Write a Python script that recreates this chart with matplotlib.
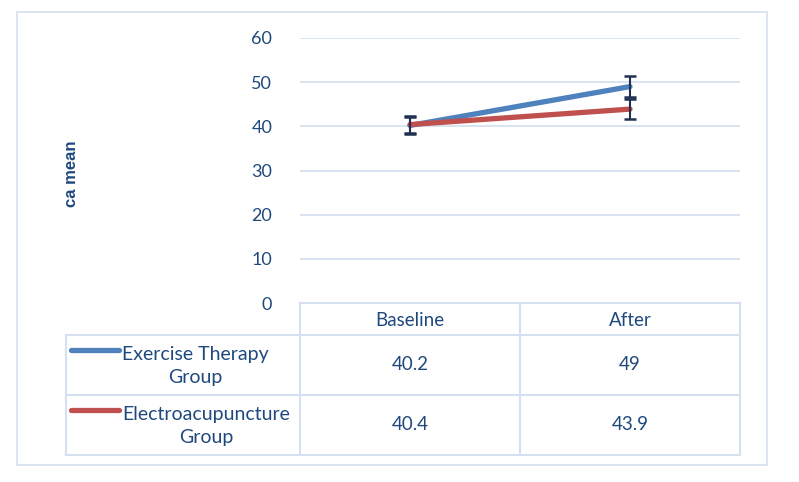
import matplotlib.pyplot as plt
from matplotlib.lines import Line2D
from matplotlib.patches import Rectangle

# chart data
categories = ["Baseline", "After"]
series_names = ["Exercise Therapy\nGroup", "Electroacupuncture\nGroup"]
exercise_vals = [40.2, 49]
electro_vals = [40.4, 43.9]
exercise_err = [2.0, 2.3]
electro_err = [2.0, 2.2]
value_labels = [["40.2", "49"], ["40.4", "43.9"]]
yticks = [0, 10, 20, 30, 40, 50, 60]

colors = ["#4F81BD", "#C0504D"]
text_col = "#1F497D"
grid_col = "#D5E1F0"
err_col = "#1F3050"

plt.rcParams['font.family'] = ['Lato', 'DejaVu Sans']

W, H = 799, 482
fig = plt.figure(figsize=(W / 100, H / 100), dpi=100)


def fx(x):
    return x / W


def fy(y):
    return 1 - y / H


# plot area in pixels
left, right, top, bottom = 300, 740, 38, 303
ax = fig.add_axes([fx(left), fy(bottom), fx(right) - fx(left), fy(top) - fy(bottom)])
ax.set_xlim(-0.5, len(categories) - 0.5)
ax.set_ylim(0, 60)
ax.set_yticks(yticks)
ax.yaxis.grid(True, color=grid_col, linewidth=1.3)
ax.set_axisbelow(True)
for s in ax.spines.values():
    s.set_visible(False)
ax.tick_params(axis='y', length=0, pad=20, labelsize=13, labelcolor=text_col)
ax.set_xticks([])

xs = list(range(len(categories)))
for vals, errs, c in [(exercise_vals, exercise_err, colors[0]), (electro_vals, electro_err, colors[1])]:
    ax.plot(xs, vals, color=c, linewidth=3.8, solid_capstyle='round', zorder=3)
    ax.errorbar(xs, vals, yerr=errs, fmt='none', ecolor=err_col, elinewidth=1.5,
                capsize=4.3, capthick=1.8, zorder=4)

fig.text(fx(71), fy(174), "ca mean", rotation=90, ha='center', va='center',
         fontsize=12, fontweight='bold', color=text_col, family=['Liberation Sans'])

# data table under the plot
tcol = "#D5E1F0"
col_edges = [66, 300, 520, 740]
row_edges = [303, 335, 395, 455]


def hline(x0, x1, y):
    fig.add_artist(Line2D([fx(x0), fx(x1)], [fy(y), fy(y)], color=tcol, lw=1.5))


def vline(x, y0, y1):
    fig.add_artist(Line2D([fx(x), fx(x)], [fy(y0), fy(y1)], color=tcol, lw=1.5))


hline(col_edges[1], col_edges[3], row_edges[0])
for y in row_edges[1:]:
    hline(col_edges[0], col_edges[3], y)
vline(col_edges[0], row_edges[1], row_edges[3])
for x in col_edges[1:]:
    vline(x, row_edges[0], row_edges[3])

for j, cat in enumerate(categories):
    cx = (col_edges[j + 1] + col_edges[j + 2]) / 2
    fig.text(fx(cx), fy((row_edges[0] + row_edges[1]) / 2 + 1), cat, ha='center', va='center',
             fontsize=13.5, color=text_col)

for i, name in enumerate(series_names):
    cy = (row_edges[i + 1] + row_edges[i + 2]) / 2
    fig.add_artist(Line2D([fx(71), fx(119)], [fy(cy - 15), fy(cy - 15)], color=colors[i],
                          lw=3.8, solid_capstyle='round'))
    fig.text(fx(122), fy(cy + 1), name, ha='left', va='center', multialignment='center',
             fontsize=14, color=text_col, linespacing=1.4)
    for j in range(len(categories)):
        cx = (col_edges[j + 1] + col_edges[j + 2]) / 2
        fig.text(fx(cx), fy(cy), value_labels[i][j], ha='center', va='center',
                 fontsize=13.5, color=text_col)

# outer chart border
fig.add_artist(Rectangle((fx(17), fy(465)), fx(767) - fx(17), fy(12) - fy(465),
                         fill=False, edgecolor=tcol, lw=1.2))

fig.savefig("out.png", dpi=100)
